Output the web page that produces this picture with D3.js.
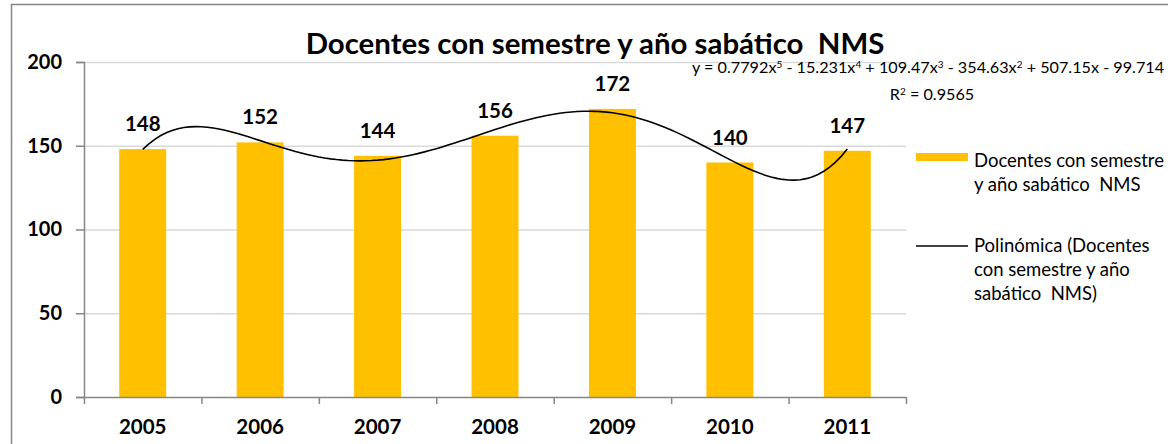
<!DOCTYPE html>
<html>
<head>
<meta charset="utf-8">
<script src="https://cdn.jsdelivr.net/npm/d3@7"></script>
<style>
  body { margin: 0; background: #fff; }
  text { font-family: Lato, "Open Sans", sans-serif; }
</style>
</head>
<body>
<script>
// data
var years = ["2005", "2006", "2007", "2008", "2009", "2010", "2011"];
var docentes = [148, 152, 144, 156, 172, 140, 147];
var yTicks = [0, 50, 100, 150, 200];
// trend line coefficients, highest power first (from the chart's equation)
var trendCoef = [0.7792, -15.231, 109.47, -354.63, 507.15, -99.714];
var trendR2 = "0.9565";
var titleText = "Docentes con semestre y año sabático  NMS";
var legendBar = ["Docentes con semestre", "y año sabático  NMS"];
var legendLine = ["Polinómica (Docentes", "con semestre y año", "sabático  NMS)"];

var width = 1168, height = 444;
var plot = {left: 84, right: 906, top: 62, bottom: 397};

var svg = d3.select("body").append("svg")
    .attr("width", width)
    .attr("height", height);

// chart border (runs off the right and bottom edge)
svg.append("rect")
    .attr("x", 11.5)
    .attr("y", 4.5)
    .attr("width", 1300)
    .attr("height", 600)
    .attr("fill", "#fff")
    .attr("stroke", "#868686")
    .attr("stroke-width", 1.5);

var x = d3.scaleBand()
    .domain(years)
    .range([plot.left, plot.right])
    .paddingInner(0.6)
    .paddingOuter(0.3);

// numeric x for trend line: 1..7 at band centres
var xt = d3.scaleLinear()
    .domain([0.5, years.length + 0.5])
    .range([plot.left, plot.right]);

var y = d3.scaleLinear().domain([0, 200]).range([plot.bottom, plot.top]);

// gridlines
svg.append("g").selectAll("line")
    .data(yTicks.filter(function(d) { return d > 0; }))
    .enter().append("line")
    .attr("x1", plot.left)
    .attr("x2", plot.right)
    .attr("y1", function(d) { return y(d) + 0.5; })
    .attr("y2", function(d) { return y(d) + 0.5; })
    .attr("stroke", "#d9d9d9")
    .attr("stroke-width", 1.5);

// bars
svg.append("g").selectAll("rect")
    .data(docentes)
    .enter().append("rect")
    .attr("x", function(d, i) { return x(years[i]); })
    .attr("y", function(d) { return y(d); })
    .attr("width", x.bandwidth())
    .attr("height", function(d) { return y(0) - y(d); })
    .attr("fill", "#ffc000");

// polynomial trend line
function poly(t) {
    var v = 0;
    trendCoef.forEach(function(c) { v = v * t + c; });
    return v;
}
var trendX = d3.range(1, years.length + 0.001, 0.05);
var line = d3.line()
    .x(function(t) { return xt(t); })
    .y(function(t) { return y(poly(t)); });
svg.append("path")
    .datum(trendX)
    .attr("fill", "none")
    .attr("stroke", "#000")
    .attr("stroke-width", 1.6)
    .attr("d", line);

// data labels
svg.append("g").selectAll("text")
    .data(docentes)
    .enter().append("text")
    .attr("x", function(d, i) { return x(years[i]) + x.bandwidth() / 2; })
    .attr("y", function(d) { return y(d) - 18; })
    .attr("text-anchor", "middle")
    .style("font-size", "20.5px")
    .style("font-weight", "bold")
    .text(function(d) { return d; });

// y axis
var yAxis = svg.append("g")
    .attr("transform", "translate(" + plot.left + ",0)")
    .call(d3.axisLeft(y).tickValues(yTicks).tickSize(8).tickPadding(14));
yAxis.select(".domain").attr("stroke", "#868686").attr("stroke-width", 1.5);
yAxis.selectAll(".tick line").attr("stroke", "#868686").attr("stroke-width", 1.5);
yAxis.selectAll(".tick text")
    .attr("fill", "#000")
    .style("font-size", "20px")
    .style("font-weight", "bold")
    .style("font-family", "Lato, 'Open Sans', sans-serif");

// x axis: ticks between categories
var xAxis = svg.append("g")
    .attr("transform", "translate(0," + plot.bottom + ")")
    .call(d3.axisBottom(xt).tickValues(d3.range(0.5, years.length + 1, 1)).tickFormat("").tickSize(7).tickSizeOuter(0));
xAxis.select(".domain").attr("stroke", "#868686").attr("stroke-width", 1.5);
xAxis.selectAll(".tick line").attr("stroke", "#868686").attr("stroke-width", 1.5);

var xLab = svg.append("g")
    .attr("transform", "translate(0," + plot.bottom + ")")
    .call(d3.axisBottom(x).tickSize(0).tickPadding(22));
xLab.select(".domain").remove();
xLab.selectAll(".tick text")
    .attr("fill", "#000")
    .style("font-size", "20.5px")
    .style("font-weight", "bold")
    .style("font-family", "Lato, 'Open Sans', sans-serif");

// title
svg.append("text")
    .attr("x", 595)
    .attr("y", 54)
    .attr("text-anchor", "middle")
    .style("font-size", "29.4px")
    .style("font-weight", "bold")
    .style("white-space", "pre")
    .text(titleText);

// trend equation
var powers = ["5", "4", "3", "2", "", ""];
var eq = svg.append("text")
    .attr("x", 692)
    .attr("y", 73)
    .style("font-size", "16.2px")
    .style("white-space", "pre");
var back = 0;
trendCoef.forEach(function(c, i) {
    var s = (i == 0 ? "y = " + c : (c < 0 ? " - " : " + ") + Math.abs(c));
    if (i < 5) s += "x";
    eq.append("tspan").attr("dy", back).text(s);
    back = 0;
    if (powers[i]) {
        eq.append("tspan").attr("dy", -5).style("font-size", "10px").text(powers[i]);
        back = 5;
    }
});
var r2 = svg.append("text")
    .attr("x", 932)
    .attr("y", 100)
    .attr("text-anchor", "middle")
    .style("font-size", "16.2px");
r2.append("tspan").text("R");
r2.append("tspan").attr("dy", -5).style("font-size", "10px").text("2");
r2.append("tspan").attr("dy", 5).text(" = " + trendR2);

// legend
svg.append("rect")
    .attr("x", 916)
    .attr("y", 153)
    .attr("width", 52)
    .attr("height", 8)
    .attr("fill", "#ffc000");
svg.append("line")
    .attr("x1", 916).attr("x2", 968)
    .attr("y1", 246).attr("y2", 246)
    .attr("stroke", "#000")
    .attr("stroke-width", 1.6);

svg.append("g").selectAll("text")
    .data(legendBar)
    .enter().append("text")
    .attr("x", 974)
    .attr("y", function(d, i) { return 167 + i * 24; })
    .style("font-size", "18.5px")
    .style("white-space", "pre")
    .text(function(d) { return d; });

svg.append("g").selectAll("text")
    .data(legendLine)
    .enter().append("text")
    .attr("x", 974)
    .attr("y", function(d, i) { return 252 + i * 24; })
    .style("font-size", "18.5px")
    .style("white-space", "pre")
    .text(function(d) { return d; });
</script>
</body>
</html>
